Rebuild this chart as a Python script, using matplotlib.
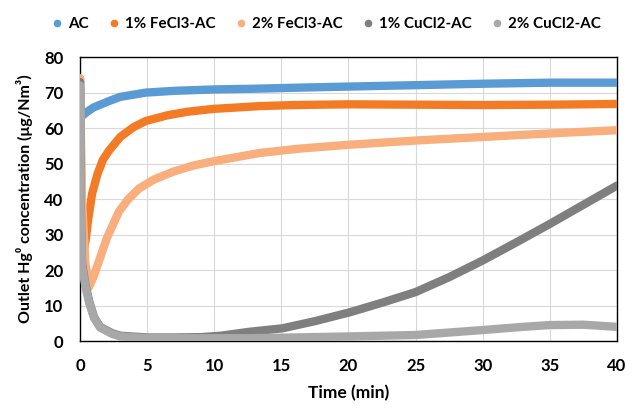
import matplotlib
matplotlib.use("Agg")
import matplotlib.pyplot as plt

plt.rcParams['font.family'] = ['Lato', 'DejaVu Sans']
plt.rcParams['font.weight'] = 'bold'

# ── data (time in min, outlet Hg0 in ug/Nm3) ──
t_ac = [0, 0.05, 0.15, 0.5, 1.0, 2.15, 3.0, 4.9, 7.0, 10, 13, 16.3, 20, 25, 30, 35, 40]
y_ac = [74, 64, 63.4, 64.5, 65.8, 67.6, 68.8, 70.0, 70.5, 70.9, 71.1, 71.4, 71.7, 72.1, 72.5, 72.8, 72.8]

t_fe1 = [0, 0.1, 0.3, 0.42, 0.6, 0.9, 1.3, 1.7, 2.15, 3.0, 4.0, 4.9, 6.5, 8.0, 9.9, 13.4, 16, 20, 25, 30, 35, 40]
y_fe1 = [74, 40, 26, 28.4, 34, 41.5, 47, 51, 53.6, 57.5, 60.3, 62.0, 63.6, 64.6, 65.4, 66.2, 66.5, 66.7, 66.6, 66.5, 66.6, 66.8]

t_fe2 = [0, 0.15, 0.4, 0.67, 1.0, 1.5, 2.0, 2.9, 3.6, 4.4, 5.5, 7.0, 8.5, 10, 13.4, 16.3, 20, 25, 30, 35, 40]
y_fe2 = [74, 40, 22, 15.2, 18, 23.5, 29, 36.5, 40, 43, 45.5, 47.8, 49.5, 50.7, 53.0, 54.2, 55.3, 56.5, 57.5, 58.5, 59.4]

t_cu1 = [0, 0.05, 0.15, 0.4, 0.7, 1.05, 1.5, 2.4, 3.0, 5, 7, 9, 10.5, 12.6, 15.1, 17.5, 20.1, 22.5, 25, 27.5, 30, 32.5, 35, 37.5, 40]
y_cu1 = [73, 40, 22, 16, 11, 6.7, 4.0, 2.2, 1.5, 1.0, 1.0, 1.1, 1.5, 2.6, 3.6, 5.6, 8.1, 10.8, 13.8, 18, 22.7, 27.8, 33.0, 38.4, 43.8]

t_cu2 = [0, 0.05, 0.15, 0.4, 0.7, 1.05, 1.5, 2.4, 3.0, 5, 8, 12.6, 16, 20, 25, 30, 33, 35, 37.5, 40]
y_cu2 = [72, 38, 21, 15.5, 10.5, 6.5, 3.8, 2.0, 1.3, 0.8, 0.8, 0.8, 1.0, 1.3, 1.7, 3.1, 4.0, 4.5, 4.6, 4.0]

series = [
    ("AC",           t_ac,  y_ac,  "#5B9BD5"),
    ("1% FeCl3-AC",  t_fe1, y_fe1, "#F47B25"),
    ("2% FeCl3-AC",  t_fe2, y_fe2, "#F9AE7E"),
    ("1% CuCl2-AC",  t_cu1, y_cu1, "#7F7F7F"),
    ("2% CuCl2-AC",  t_cu2, y_cu2, "#A8A8A8"),
]

fig = plt.figure(figsize=(6.42, 4.2), dpi=100)
ax = fig.add_axes([0.1246, 0.188, 0.8364, 0.676])

for name, t, y, c in series:
    ax.plot(t, y, color=c, lw=6, solid_capstyle="round",
            solid_joinstyle="round", label=name, zorder=3)

ax.set_xlim(0, 40)
ax.set_ylim(0, 80)
ax.set_xticks(range(0, 41, 5))
ax.set_yticks(range(0, 81, 10))
ax.grid(True, color="#D9D9D9", lw=0.8, zorder=0)
ax.tick_params(length=0, labelsize=12)
ax.tick_params(axis="x", pad=12)
ax.tick_params(axis="y", pad=12)
for lab in ax.get_xticklabels() + ax.get_yticklabels():
    lab.set_fontweight("bold")
for s in ax.spines.values():
    s.set_color("black")
    s.set_linewidth(1.0)

ax.set_xlabel("Time (min)", fontsize=12.5, fontweight="bold", labelpad=8)
ax.set_ylabel("Outlet Hg\u2070 concentration (\u03bcg/Nm\u00b3)", fontsize=11.5,
              fontweight="bold", labelpad=8)

handles = [plt.Line2D([], [], ls="none", marker="o", ms=4.5, color=c) for _, _, _, c in series]
fig.legend(handles, [s[0] for s in series], loc="center", bbox_to_anchor=(0.508, 0.943),
           ncol=5, frameon=False, handlelength=0.8, handletextpad=0.3,
           columnspacing=1.3, prop={"size": 10.9, "weight": "bold"})

fig.savefig("out.png", dpi=100)
